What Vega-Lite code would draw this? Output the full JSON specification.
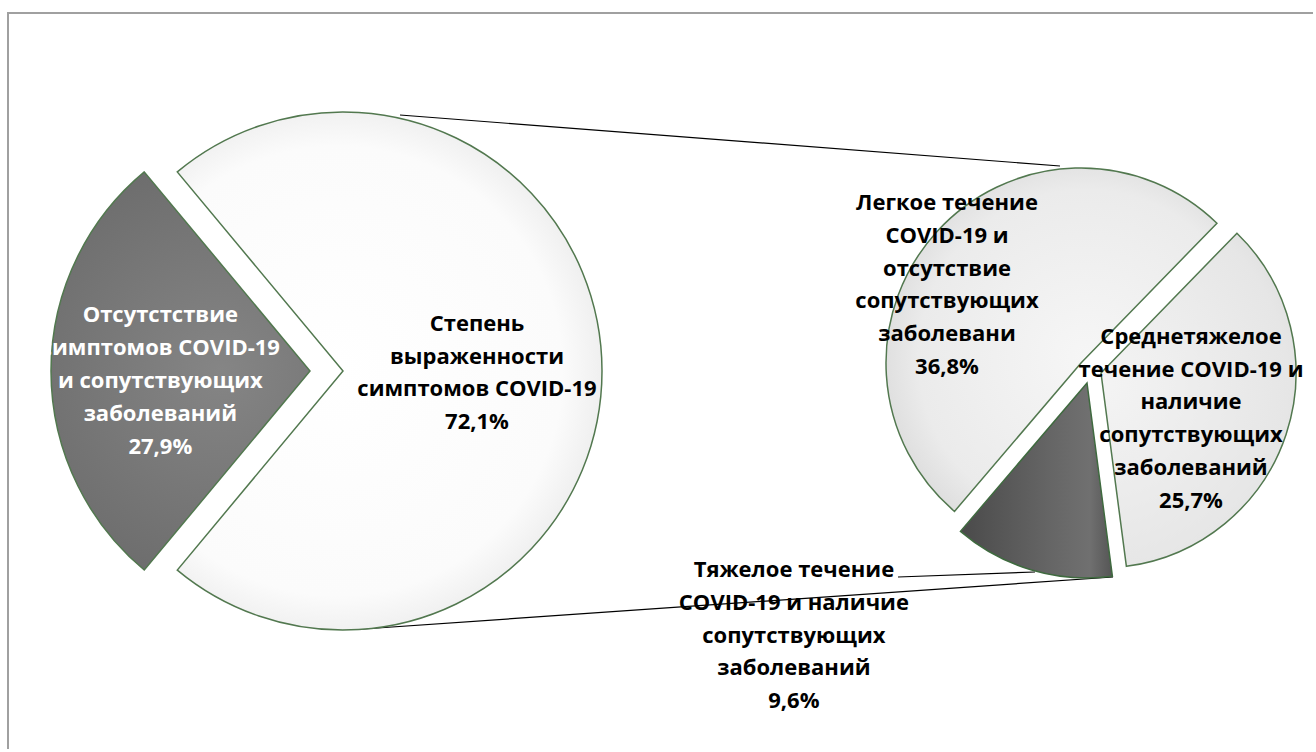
{
  "$schema": "https://vega.github.io/schema/vega-lite/v6.json",
  "width": 1308,
  "height": 739,
  "padding": {"left": 8, "top": 13, "right": -3, "bottom": -3},
  "autosize": {"type": "none"},
  "background": "#ffffff",
  "config": {
    "view": {"stroke": "#a0a0a0", "strokeWidth": 2},
    "text": {"font": "Open Sans", "fontWeight": "bold", "fontSize": 22, "lineHeight": 32.8, "lineBreak": "\n", "align": "center", "baseline": "middle", "color": "#000000"},
    "rule": {"color": "#000000", "strokeWidth": 1.2}
  },
  "data": {
    "values": [
      {"pie": "main", "slice": "none", "value": 27.9, "label": "Отсутстствие\nсимптомов COVID-19\nи сопутствующих\nзаболеваний\n27,9%"},
      {"pie": "main", "slice": "symptoms", "value": 72.1, "label": "Степень\nвыраженности\nсимптомов COVID-19\n72,1%"},
      {"pie": "sub", "slice": "mild", "value": 36.8, "label": "Легкое течение\nCOVID-19 и\nотсутствие\nсопутствующих\nзаболевани\n36,8%"},
      {"pie": "sub", "slice": "moderate", "value": 25.7, "label": "Среднетяжелое\nтечение COVID-19 и\nналичие\nсопутствующих\nзаболеваний\n25,7%"},
      {"pie": "sub", "slice": "severe", "value": 9.6, "label": "Тяжелое течение\nCOVID-19 и наличие\nсопутствующих\nзаболеваний\n9,6%"}
    ]
  },
  "encoding": {
    "x": {"field": "pie", "type": "nominal", "scale": {"type": "point", "domain": ["main", "sub"], "range": [335, 1082], "padding": 0}, "axis": null},
    "y": {"field": "pie", "type": "nominal", "scale": {"type": "point", "domain": ["main", "sub"], "range": [358, 359], "padding": 0}, "axis": null}
  },
  "resolve": {"scale": {"theta": "independent"}},
  "layer": [
    {
      "data": {"values": [{"connector": "upper"}]},
      "mark": {"type": "rule", "xOffset": 57, "x2Offset": -30, "yOffset": -256, "y2Offset": -206},
      "encoding": {"x": {"datum": "main"}, "x2": {"datum": "sub"}, "y": {"datum": "main"}, "y2": {"datum": "sub"}}
    },
    {
      "data": {"values": [{"connector": "lower"}]},
      "mark": {"type": "rule", "xOffset": 20, "x2Offset": 23, "yOffset": 258, "y2Offset": 205},
      "encoding": {"x": {"datum": "main"}, "x2": {"datum": "sub"}, "y": {"datum": "main"}, "y2": {"datum": "sub"}}
    },
    {
      "data": {"values": [{"connector": "leader"}]},
      "mark": {"type": "rule", "xOffset": -192, "x2Offset": -55, "yOffset": 205, "y2Offset": 200},
      "encoding": {"x": {"datum": "sub"}, "x2": {"datum": "sub"}, "y": {"datum": "sub"}, "y2": {"datum": "sub"}}
    },
    {
      "transform": [{"filter": "datum.pie == 'main'"}, {"stack": "value", "groupby": ["pie"], "sort": [{"field": "label", "order": "ascending"}], "as": ["t0", "t1"]}, {"filter": "datum.slice == 'none'"}],
      "mark": {"type": "arc", "outerRadius": 259, "xOffset": -33, "stroke": "#52784f", "strokeWidth": 1.5,
        "fill": {"gradient": "radial", "x1": 0.6, "y1": 0.5, "r1": 0, "x2": 0.6, "y2": 0.5, "r2": 0.75,
          "stops": [{"offset": 0, "color": "#858585"}, {"offset": 0.7, "color": "#6e6e6e"}, {"offset": 1, "color": "#545454"}]}},
      "encoding": {
        "theta": {"field": "t0", "type": "quantitative", "scale": {"domain": [0, 100], "range": [3.836, 10.119]}},
        "theta2": {"field": "t1"}
      }
    },
    {
      "transform": [{"filter": "datum.pie == 'main'"}, {"stack": "value", "groupby": ["pie"], "sort": [{"field": "label", "order": "ascending"}], "as": ["t0", "t1"]}, {"filter": "datum.slice == 'symptoms'"}],
      "mark": {"type": "arc", "outerRadius": 259, "stroke": "#52784f", "strokeWidth": 1.5,
        "fill": {"gradient": "radial", "x1": 0.4, "y1": 0.5, "r1": 0, "x2": 0.4, "y2": 0.5, "r2": 0.62,
          "stops": [{"offset": 0, "color": "#ffffff"}, {"offset": 0.7, "color": "#fbfbfb"}, {"offset": 0.87, "color": "#ebebeb"}, {"offset": 1, "color": "#cfcfcf"}]}},
      "encoding": {
        "theta": {"field": "t0", "type": "quantitative", "scale": {"domain": [0, 100], "range": [3.836, 10.119]}},
        "theta2": {"field": "t1"}
      }
    },
    {
      "transform": [{"filter": "datum.pie == 'sub'"}, {"stack": "value", "groupby": ["pie"], "sort": [{"field": "label", "order": "ascending"}], "as": ["t0", "t1"]}, {"filter": "datum.slice == 'moderate'"}],
      "mark": {"type": "arc", "outerRadius": 195, "xOffset": 11, "yOffset": 1, "stroke": "#52784f", "strokeWidth": 1.5,
        "fill": {"gradient": "radial", "x1": 0.2, "y1": 0.45, "r1": 0, "x2": 0.2, "y2": 0.45, "r2": 0.95,
          "stops": [{"offset": 0, "color": "#f4f4f4"}, {"offset": 0.6, "color": "#e6e6e6"}, {"offset": 1, "color": "#c8c8c8"}]}},
      "encoding": {
        "theta": {"field": "t0", "type": "quantitative", "scale": {"domain": [0, 72.1], "range": [3.8476, 10.1308]}},
        "theta2": {"field": "t1"}
      }
    },
    {
      "transform": [{"filter": "datum.pie == 'sub'"}, {"stack": "value", "groupby": ["pie"], "sort": [{"field": "label", "order": "ascending"}], "as": ["t0", "t1"]}, {"filter": "datum.slice == 'severe'"}],
      "mark": {"type": "arc", "outerRadius": 195, "xOffset": -3, "yOffset": 11, "stroke": "#3f6a3f", "strokeWidth": 1.5,
        "fill": {"gradient": "linear", "x1": 0, "y1": 0.5, "x2": 1, "y2": 0.5,
          "stops": [{"offset": 0, "color": "#4a4a4a"}, {"offset": 0.6, "color": "#666666"}, {"offset": 0.85, "color": "#707070"}, {"offset": 1, "color": "#555555"}]}},
      "encoding": {
        "theta": {"field": "t0", "type": "quantitative", "scale": {"domain": [0, 72.1], "range": [3.8476, 10.1308]}},
        "theta2": {"field": "t1"}
      }
    },
    {
      "transform": [{"filter": "datum.pie == 'sub'"}, {"stack": "value", "groupby": ["pie"], "sort": [{"field": "label", "order": "ascending"}], "as": ["t0", "t1"]}, {"filter": "datum.slice == 'mild'"}],
      "mark": {"type": "arc", "outerRadius": 195, "xOffset": -9, "yOffset": -9, "stroke": "#52784f", "strokeWidth": 1.5,
        "fill": {"gradient": "radial", "x1": 0.6, "y1": 0.55, "r1": 0, "x2": 0.6, "y2": 0.55, "r2": 0.75,
          "stops": [{"offset": 0, "color": "#f6f6f6"}, {"offset": 0.65, "color": "#ebebeb"}, {"offset": 1, "color": "#cccccc"}]}},
      "encoding": {
        "theta": {"field": "t0", "type": "quantitative", "scale": {"domain": [0, 72.1], "range": [3.8476, 10.1308]}},
        "theta2": {"field": "t1"}
      }
    },
    {
      "transform": [{"filter": "datum.pie == 'main'"}],
      "mark": {"type": "text", "radius": 150, "thetaOffset": -0.067, "xOffset": -33, "yOffset": -65.6, "color": "#ffffff"},
      "encoding": {
        "theta": {"field": "value", "type": "quantitative", "stack": true, "scale": {"domain": [0, 100], "range": [3.836, 10.119]}},
        "text": {"condition": {"test": "datum.slice == 'none'", "field": "label", "type": "nominal"}, "value": ""}
      }
    },
    {
      "transform": [{"filter": "datum.pie == 'main'"}],
      "mark": {"type": "text", "radius": 134, "thetaOffset": 0.015, "yOffset": -49.2},
      "encoding": {
        "theta": {"field": "value", "type": "quantitative", "stack": true, "scale": {"domain": [0, 100], "range": [3.836, 10.119]}},
        "text": {"condition": {"test": "datum.slice == 'symptoms'", "field": "label", "type": "nominal"}, "value": ""}
      }
    },
    {
      "transform": [{"filter": "datum.pie == 'sub'"}],
      "mark": {"type": "text", "radius": 101, "thetaOffset": 0.15, "xOffset": 11, "yOffset": -81},
      "encoding": {
        "theta": {"field": "value", "type": "quantitative", "stack": true, "scale": {"domain": [0, 72.1], "range": [3.8476, 10.1308]}},
        "text": {"condition": {"test": "datum.slice == 'moderate'", "field": "label", "type": "nominal"}, "value": ""}
      }
    },
    {
      "transform": [{"filter": "datum.pie == 'sub'"}],
      "mark": {"type": "text", "radius": 387, "thetaOffset": 0.5716, "xOffset": -3, "yOffset": -54.6},
      "encoding": {
        "theta": {"field": "value", "type": "quantitative", "stack": true, "scale": {"domain": [0, 72.1], "range": [3.8476, 10.1308]}},
        "text": {"condition": {"test": "datum.slice == 'severe'", "field": "label", "type": "nominal"}, "value": ""}
      }
    },
    {
      "transform": [{"filter": "datum.pie == 'sub'"}],
      "mark": {"type": "text", "radius": 155, "thetaOffset": -0.212, "xOffset": -9, "yOffset": -91},
      "encoding": {
        "theta": {"field": "value", "type": "quantitative", "stack": true, "scale": {"domain": [0, 72.1], "range": [3.8476, 10.1308]}},
        "text": {"condition": {"test": "datum.slice == 'mild'", "field": "label", "type": "nominal"}, "value": ""}
      }
    }
  ]
}
